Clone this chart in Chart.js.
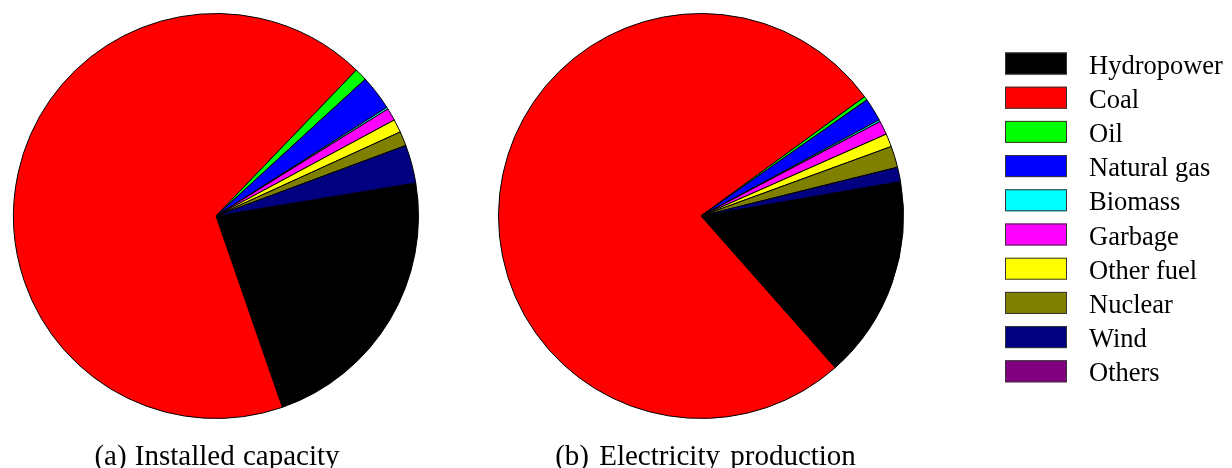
<!DOCTYPE html>
<html lang="en">
<head>
    <title>Installed capacity and electricity production</title>
    <script src="https://cdn.jsdelivr.net/npm/chart.js@4"></script>
    <style>
        body { margin: 0; background: #fff; }
        .box { position: absolute; top: 0; height: 468px; }
    </style>
</head>
<body>

<div class="box" style="left:0; width:440px"><canvas id="pieA"></canvas></div>
<div class="box" style="left:485px; width:747px"><canvas id="pieB"></canvas></div>

<script type="text/javascript">

    const sources = ["Hydropower", "Coal", "Oil", "Natural gas", "Biomass", "Garbage", "Other fuel", "Nuclear", "Wind", "Others"];
    const colors = ["#000000", "#ff0000", "#00ff00", "#0000ff", "#00ffff", "#ff00ff", "#ffff00", "#808000", "#000080", "#800080"];

    // shares in percent
    const installedCapacity = [22.3, 67.5, 1.0, 2.8, 0.15, 1.0, 1.05, 1.15, 3.05, 0];
    const electricityProduction = [16.2, 76.5, 0.3, 1.85, 0.15, 1.1, 1.05, 1.7, 1.15, 0];

    const serif = "'Liberation Serif', 'Times New Roman', serif";

    // caption under each pie, plus the shared legend drawn on the second chart
    const extras = {
        id: 'extras',
        afterDraw(chart, args, opts) {
            const ctx = chart.ctx;
            ctx.save();
            ctx.fillStyle = "#000";
            ctx.textBaseline = "alphabetic";
            ctx.font = "29px " + serif;
            ctx.textAlign = "center";
            ctx.wordSpacing = opts.wordSpacing || "0px";
            ctx.fillText(opts.caption, opts.captionX, 465);
            ctx.wordSpacing = "0px";
            if (opts.legendX !== undefined) {
                const labels = chart.data.labels;
                const fills = chart.data.datasets[0].backgroundColor;
                ctx.font = "26.5px " + serif;
                ctx.textAlign = "left";
                for (let i = 0; i < labels.length; i++) {
                    const top = 52.5 + i * 34.2;
                    ctx.fillStyle = fills[i];
                    ctx.fillRect(opts.legendX, top, 62, 22);
                    ctx.strokeStyle = "#333";
                    ctx.lineWidth = 1;
                    ctx.strokeRect(opts.legendX + 0.5, top + 0.5, 61, 21);
                    ctx.fillStyle = "#000";
                    ctx.fillText(labels[i], opts.legendX + 84, top + 21);
                }
            }
            ctx.restore();
        }
    };

    function pieOptions(rotation, padding, extraOpts) {
        return {
            responsive: true,
            maintainAspectRatio: false,
            animation: false,
            rotation: rotation,
            layout: {padding: padding},
            plugins: {
                legend: {display: false},
                tooltip: {enabled: false},
                extras: extraOpts
            }
        };
    }

    new Chart("pieA", {
        type: 'pie',
        data: {
            labels: sources,
            datasets: [{
                data: installedCapacity,
                backgroundColor: colors,
                borderColor: "#000000",
                borderWidth: 1
            }]
        },
        options: pieOptions(80.6, {left: 13, right: 21, top: 13, bottom: 49},
            {caption: "(a) Installed capacity", captionX: 217, wordSpacing: "1px"}),
        plugins: [extras]
    });

    new Chart("pieB", {
        type: 'pie',
        data: {
            labels: sources,
            datasets: [{
                data: electricityProduction,
                backgroundColor: colors,
                borderColor: "#000000",
                borderWidth: 1
            }]
        },
        options: pieOptions(80.2, {left: 13, right: 328, top: 13, bottom: 49},
            {caption: "(b) Electricity production", captionX: 220.5, wordSpacing: "3px", legendX: 520}),
        plugins: [extras]
    });

</script>
</body>
</html>
